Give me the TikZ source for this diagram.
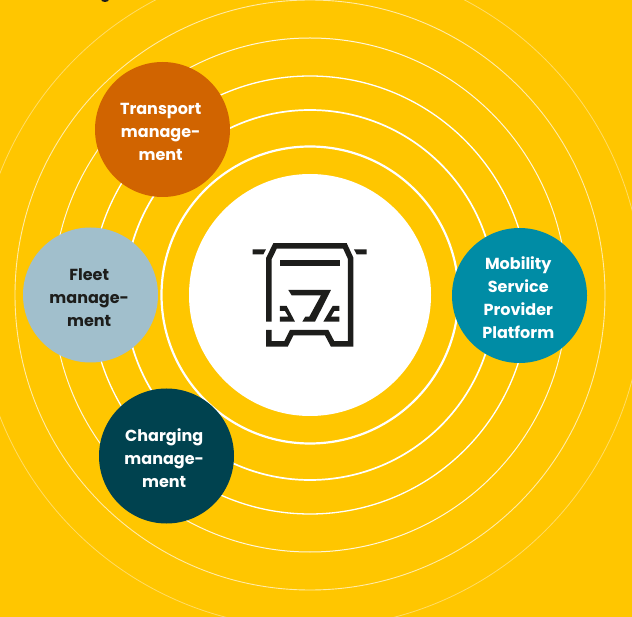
\documentclass[tikz,border=0pt]{standalone}
\usepackage{fontspec}
\setmainfont{Poppins}
\definecolor{bgy}{HTML}{FFC600}
\definecolor{cO}{HTML}{D16400}
\definecolor{cB}{HTML}{A1BFCC}
\definecolor{cD}{HTML}{00424F}
\definecolor{cT}{HTML}{008CA5}
\definecolor{ic}{HTML}{1D1D1B}
\tikzset{
 bubble/.style={circle,minimum size=135pt,inner sep=0pt},
 bubbletext/.style={inner sep=0pt,align=center,font=\bfseries\fontsize{16}{23}\selectfont},
 ring/.style={draw=white,fill=none}
}
\begin{document}
\begin{tikzpicture}[x=1pt,y=-1pt]
\useasboundingbox (0,0) rectangle (632,617);
\fill[bgy] (0,0) rectangle (632,617);
\begin{scope}
\clip (0,0) rectangle (632,617);
\coordinate (c) at (310,295);
\draw[ring,line width=2.2pt] (c) circle (148.5);
\draw[ring,line width=1.7pt] (c) circle (185);
\draw[ring,line width=1.3pt] (c) circle (219);
\draw[ring,line width=1pt,draw opacity=.85] (c) circle (257);
\draw[ring,line width=.9pt,draw opacity=.65] (c) circle (295);
\draw[ring,line width=.8pt,draw opacity=.4] (c) circle (333);
\fill[ic] (105,-.5) ellipse (4 and 2.5);
\end{scope}
\node[circle,fill=white,minimum size=242pt,inner sep=0pt] (hub) at (310,295) {};
\node[bubble,fill=cO] (t) at (162.5,129.5) {};
\node[bubble,fill=cB] (f) at (90.5,295) {};
\node[bubble,fill=cD] (ch) at (166.5,456) {};
\node[bubble,fill=cT] (m) at (519.5,295.5) {};
\node[bubbletext,text=white] (tl) at ([shift={(-1.8,2.2)}]t.center) {Transport\\manage-\\ment};
\node[bubbletext,text=ic] (fl) at ([shift={(-1.3,2.2)}]f.center) {Fleet\\manage-\\ment};
\node[bubbletext,text=white] (cl) at ([shift={(-2.3,2.2)}]ch.center) {Charging\\manage-\\ment};
\node[bubbletext,text=white] (ml) at ([shift={(-1.2,2.2)}]m.center) {Mobility\\Service\\Provider\\Platform};
\begin{scope}[shift={(230,220)},x=.3333pt,y=-.3333pt,line join=miter]
\draw[ic,line width=5.5pt] (117,305) -- (117,115) -- (135,78) -- (345,78) -- (362,115) -- (362,372) -- (308,372) -- (290,338) -- (185,338) -- (168,372) -- (117,372) -- (117,330);
\fill[ic] (150,120) rectangle (330,137);
\fill[ic] (68,88) -- (108,88) -- (100,103) -- (68,103) -- cycle;
\fill[ic] (372,88) -- (410,88) -- (410,103) -- (380,103) -- cycle;
\fill[ic] (175,210) -- (303,210) -- (255,305) -- (217,305) -- (226,290) -- (238,290) -- (273,226) -- (185,226) -- cycle;
\fill[ic] (150,258) -- (170,258) -- (195,305) -- (150,305) -- (150,290) -- (175,290) -- (165,273) -- (150,273) -- cycle;
\fill[ic] (328,258) -- (308,258) -- (280,305) -- (328,305) -- (328,290) -- (303,290) -- (313,273) -- (328,273) -- cycle;
\end{scope}
\end{tikzpicture}
\end{document}
